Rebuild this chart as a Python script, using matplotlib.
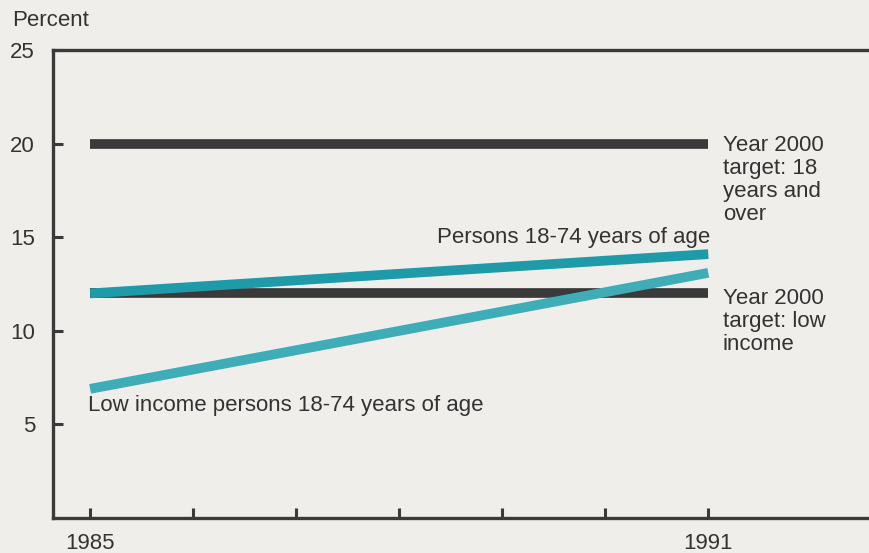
import matplotlib
matplotlib.use("Agg")
import matplotlib.pyplot as plt

plt.rcParams['font.family'] = ['Liberation Sans', 'DejaVu Sans']

# data
years = [1985, 1991]
target_all = [20, 20]
target_low = [12, 12]
persons = [12, 14.1]
low_income = [6.9, 13.1]

bg = "#efeeea"
dark = "#3a3a3a"
teal = "#1f9aa8"
teal_light = "#3eadb8"
txt = "#333333"
fs = 16

fig = plt.figure(figsize=(8.69, 5.53), dpi=100, facecolor=bg)
ax = fig.add_axes([0.061, 0.0633, 0.939, 0.846], facecolor=bg)

ax.plot(years, target_all, color=dark, lw=7, solid_capstyle="butt")
ax.plot(years, target_low, color=dark, lw=7, solid_capstyle="butt")
ax.plot(years, low_income, color=teal_light, lw=7, solid_capstyle="butt")
ax.plot(years, persons, color=teal, lw=7, solid_capstyle="butt")

ax.set_xlim(1984.64, 1992.56)
ax.set_ylim(0, 25)
ax.set_xticks(range(1985, 1992))
ax.set_xticklabels(["1985", "", "", "", "", "", "1991"])
ax.set_yticks([5, 10, 15, 20, 25])
ax.tick_params(direction="in", length=7, width=2.2, color=dark, labelsize=fs,
               labelcolor=txt)
ax.tick_params(axis="x", pad=11)
ax.tick_params(axis="y", pad=13)
for s in ["left", "bottom", "top"]:
    ax.spines[s].set_linewidth(2.4)
    ax.spines[s].set_color(dark)
ax.spines["right"].set_visible(False)

fig.text(12 / 869, 1 - 20 / 553, "Percent", fontsize=fs, color=txt, va="center")

ax.text(1991.14, 20.45, "Year 2000\ntarget: 18\nyears and\nover", fontsize=fs,
        color=txt, va="top", linespacing=1.12)
ax.text(1991.14, 12.3, "Year 2000\ntarget: low\nincome", fontsize=fs,
        color=txt, va="top", linespacing=1.12)
ax.text(1991.02, 15.0, "Persons 18-74 years of age", fontsize=fs,
        color=txt, ha="right", va="center")
ax.text(1984.98, 6.0, "Low income persons 18-74 years of age", fontsize=fs,
        color=txt, ha="left", va="center")

fig.savefig("out.png", dpi=100, facecolor=bg)
